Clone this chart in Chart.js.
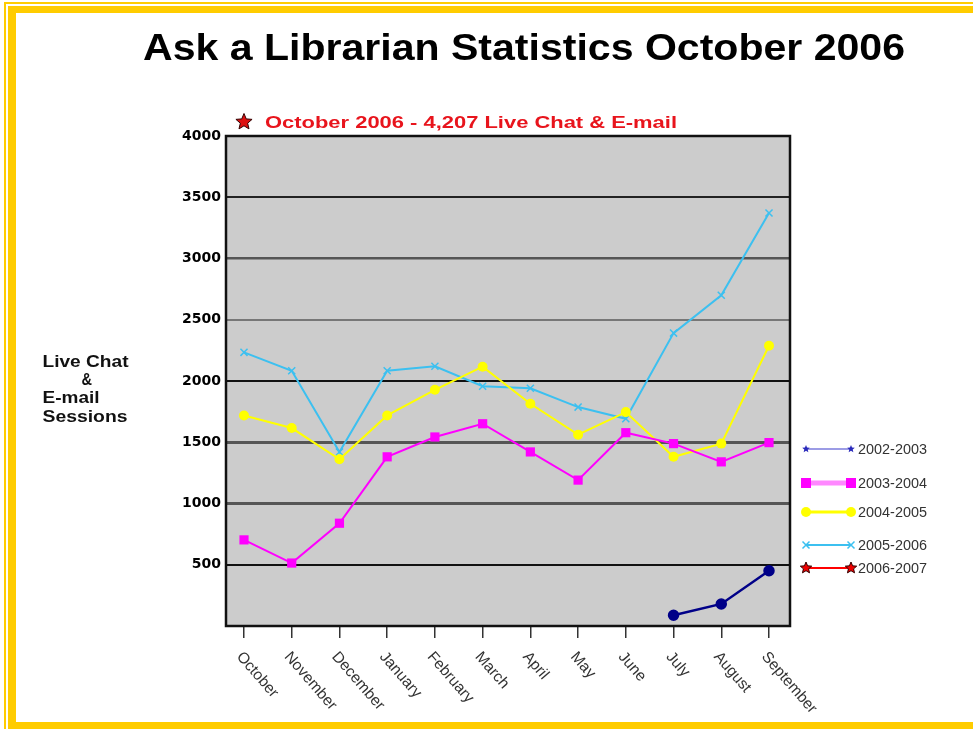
<!DOCTYPE html>
<html>
<head>
<meta charset="utf-8">
<script src="https://cdn.jsdelivr.net/npm/chart.js@4.4.1/dist/chart.umd.min.js"></script>
<style>
  html, body { margin: 0; padding: 0; background: #ffffff; }
  canvas { display: block; }
</style>
</head>
<body>
<canvas id="c" width="973" height="729"></canvas>
<script>
// ---- data ----
const months = ['October','November','December','January','February','March','April','May','June','July','August','September'];
const seriesLabels = ['2002-2003','2003-2004','2004-2005','2005-2006','2006-2007'];
const s2002 = [null, null, null, null, null, null, null, null, null, 88, 180, 451];
const s2003 = [703, 514, 839, 1381, 1543, 1651, 1421, 1191, 1578, 1489, 1340, 1497];
const s2004 = [1719, 1616, 1361, 1719, 1928, 2117, 1814, 1562, 1746, 1381, 1489, 2288];
const s2005 = [2234, 2084, 1421, 2084, 2120, 1957, 1941, 1787, 1692, 2391, 2700, 3371];
const s2006 = [4207];
const yTickValues = [0, 500, 1000, 1500, 2000, 2500, 3000, 3500, 4000];
const titleText = 'Ask a Librarian Statistics October 2006';
const yTitleLines = ['Live Chat', '&', 'E-mail', 'Sessions'];

const toPts = arr => arr.map((v, i) => ({ x: i, y: v }));

const gridStyle = {
  0: ['rgba(0,0,0,0)', 1], 500: ['#111', 2], 1000: ['#555', 3], 1500: ['#555', 3],
  2000: ['#111', 2], 2500: ['#777', 2], 3000: ['#555', 2.5], 3500: ['#222', 2], 4000: ['rgba(0,0,0,0)', 1]
};

function fitText(ctx, text, x, y, w, font, color, baseline) {
  ctx.save();
  ctx.font = font;
  ctx.fillStyle = color;
  ctx.textAlign = 'left';
  ctx.textBaseline = baseline || 'alphabetic';
  const m = ctx.measureText(text).width;
  ctx.translate(x, y);
  ctx.scale(w / m, 1);
  ctx.fillText(text, 0, 0);
  ctx.restore();
}

function starPath(ctx, x, y, r) {
  ctx.beginPath();
  for (let i = 0; i < 10; i++) {
    const rr = i % 2 === 0 ? r : r * 0.45;
    const a = -Math.PI / 2 + i * Math.PI / 5;
    const px = x + rr * Math.cos(a), py = y + rr * Math.sin(a);
    if (i === 0) ctx.moveTo(px, py); else ctx.lineTo(px, py);
  }
  ctx.closePath();
}

function marker(ctx, kind, x, y, color, size) {
  ctx.save();
  ctx.fillStyle = color; ctx.strokeStyle = color;
  if (kind === 'rect') {
    ctx.fillRect(x - size / 2, y - size / 2, size, size);
  } else if (kind === 'circle') {
    ctx.beginPath(); ctx.arc(x, y, size / 2, 0, Math.PI * 2); ctx.fill();
  } else if (kind === 'x') {
    ctx.lineWidth = 1.5;
    ctx.beginPath();
    ctx.moveTo(x - size / 2, y - size / 2); ctx.lineTo(x + size / 2, y + size / 2);
    ctx.moveTo(x - size / 2, y + size / 2); ctx.lineTo(x + size / 2, y - size / 2);
    ctx.stroke();
  } else if (kind === 'star') {
    starPath(ctx, x, y, size / 2); ctx.fill();
    ctx.lineWidth = 1; ctx.strokeStyle = '#330000'; ctx.stroke();
  } else if (kind === 'smallstar') {
    starPath(ctx, x, y, size / 2); ctx.fill();
  }
  ctx.restore();
}

const legendSpec = [
  { y: 449, line: '#3a3acc', lw: 1.2, mk: 'smallstar', mc: '#2a2abb', ms: 8 },
  { y: 483, line: '#ff88ff', lw: 5, mk: 'rect', mc: '#ff00ff', ms: 10 },
  { y: 512, line: '#ffff00', lw: 3, mk: 'circle', mc: '#ffff00', ms: 10 },
  { y: 545, line: '#3cc0f0', lw: 2, mk: 'x', mc: '#3cc0f0', ms: 7 },
  { y: 568, line: '#ff0000', lw: 2, mk: 'star', mc: '#ee0000', ms: 12 }
];

const decor = {
  id: 'decor',
  beforeDraw(chart) {
    const ctx = chart.ctx, a = chart.chartArea;
    ctx.save();
    ctx.fillStyle = '#ffffff';
    ctx.fillRect(0, 0, chart.width, chart.height);
    // yellow frame
    ctx.fillStyle = '#ffcc00';
    ctx.fillRect(4, 2, 969, 2);
    ctx.fillRect(4, 2, 2, 727);
    ctx.fillRect(8, 6, 965, 7);
    ctx.fillRect(8, 6, 8, 723);
    ctx.fillRect(8, 722, 965, 7);
    // plot background
    ctx.fillStyle = '#cccccc';
    ctx.fillRect(a.left, a.top, a.right - a.left, a.bottom - a.top);
    ctx.restore();
  },
  afterDatasetsDraw(chart) {
    const ctx = chart.ctx, a = chart.chartArea;
    ctx.save();
    ctx.strokeStyle = '#111';
    ctx.lineWidth = 2.5;
    ctx.strokeRect(a.left, a.top, a.right - a.left, a.bottom - a.top);
    ctx.restore();
  },
  afterDraw(chart) {
    const ctx = chart.ctx;
    const xs = chart.scales.x;
    // title
    fitText(ctx, titleText, 143, 60, 762, 'bold 37px "Liberation Sans", Arial, sans-serif', '#000');
    // annotation
    const octX = xs.getPixelForValue(0);
    marker(ctx, 'star', octX, 122, '#dd1111', 17);
    const ann = 'October 2006 - ' + s2006[0].toLocaleString('en-US') + ' Live Chat & E-mail';
    fitText(ctx, ann, 265, 127.5, 412, 'bold 17px "Liberation Sans", Arial, sans-serif', '#e8141c');
    // y title
    const yf = 'bold 17px "Liberation Sans", Arial, sans-serif';
    fitText(ctx, yTitleLines[0], 42.5, 366.5, 86, yf, '#111');
    fitText(ctx, yTitleLines[1], 81.5, 385, 10.5, yf, '#111');
    fitText(ctx, yTitleLines[2], 42.5, 403, 57, yf, '#111');
    fitText(ctx, yTitleLines[3], 42.5, 421.5, 85, yf, '#111');
    // x labels
    months.forEach((m, i) => {
      const px = xs.getPixelForValue(i);
      ctx.save();
      ctx.translate(px + 1, 649);
      ctx.rotate(49 * Math.PI / 180);
      ctx.font = '15.5px "Liberation Sans", Arial, sans-serif';
      ctx.fillStyle = '#333';
      ctx.textAlign = 'left';
      ctx.textBaseline = 'top';
      ctx.fillText(m, 0, 0);
      ctx.restore();
    });
    // legend
    legendSpec.forEach((L, i) => {
      ctx.save();
      ctx.strokeStyle = L.line; ctx.lineWidth = L.lw;
      ctx.beginPath(); ctx.moveTo(806, L.y); ctx.lineTo(851, L.y); ctx.stroke();
      ctx.restore();
      marker(ctx, L.mk, 806, L.y, L.mc, L.ms);
      marker(ctx, L.mk, 851, L.y, L.mc, L.ms);
      fitText(ctx, seriesLabels[i], 858, L.y + 5, 69, '14px "Liberation Sans", Arial, sans-serif', '#333');
    });
  }
};

new Chart(document.getElementById('c'), {
  type: 'line',
  data: {
    datasets: [
      { label: seriesLabels[0], data: toPts(s2002), borderColor: '#000088', backgroundColor: '#000088',
        borderWidth: 2.5, pointStyle: 'circle', pointRadius: 4.5, pointBorderColor: '#000088', pointBackgroundColor: '#000088' },
      { label: seriesLabels[1], data: toPts(s2003), borderColor: '#ff00ff', backgroundColor: '#ff00ff',
        borderWidth: 2, pointStyle: 'rect', pointRadius: 6.5, pointBorderWidth: 0, pointBackgroundColor: '#ff00ff' },
      { label: seriesLabels[2], data: toPts(s2004), borderColor: '#ffff00', backgroundColor: '#ffff00',
        borderWidth: 2, pointStyle: 'circle', pointRadius: 5, pointBorderWidth: 0, pointBackgroundColor: '#ffff00' },
      { label: seriesLabels[3], data: toPts(s2005), borderColor: '#3cc0f0', backgroundColor: '#3cc0f0',
        borderWidth: 2, pointStyle: 'crossRot', pointRadius: 5, pointBorderWidth: 1.5, pointBorderColor: '#3cc0f0' },
      { label: seriesLabels[4], data: toPts(s2006), borderColor: '#ff0000', backgroundColor: '#ee0000',
        borderWidth: 2, pointStyle: 'star', pointRadius: 6 }
    ]
  },
  options: {
    responsive: false,
    animation: false,
    devicePixelRatio: 1,
    layout: { padding: { top: 136, right: 183, left: 0, bottom: 0 } },
    plugins: { legend: { display: false }, title: { display: false }, tooltip: { enabled: false } },
    elements: { line: { tension: 0 } },
    scales: {
      x: {
        type: 'linear',
        min: -0.377,
        max: 11.44,
        afterBuildTicks(scale) { scale.ticks = months.map((m, i) => ({ value: i })); },
        afterFit(scale) { scale.height = 103; },
        ticks: { display: false },
        border: { display: false },
        grid: { drawOnChartArea: false, drawTicks: true, tickLength: 12, color: '#333', lineWidth: 1.5 }
      },
      y: {
        min: 0,
        max: 4000,
        afterBuildTicks(scale) { scale.ticks = yTickValues.map(v => ({ value: v })); },
        afterFit(scale) { scale.width = 226; },
        border: { display: false },
        grid: {
          drawTicks: false,
          color: c => (gridStyle[c.tick.value] || ['#555', 1])[0],
          lineWidth: c => (gridStyle[c.tick.value] || ['#555', 1])[1]
        },
        ticks: {
          padding: 5,
          color: '#000',
          font: { family: '"DejaVu Sans", sans-serif', weight: 'bold', size: 14 },
          callback: v => (v === 0 ? '' : String(v))
        }
      }
    }
  },
  plugins: [decor]
});
</script>
</body>
</html>
